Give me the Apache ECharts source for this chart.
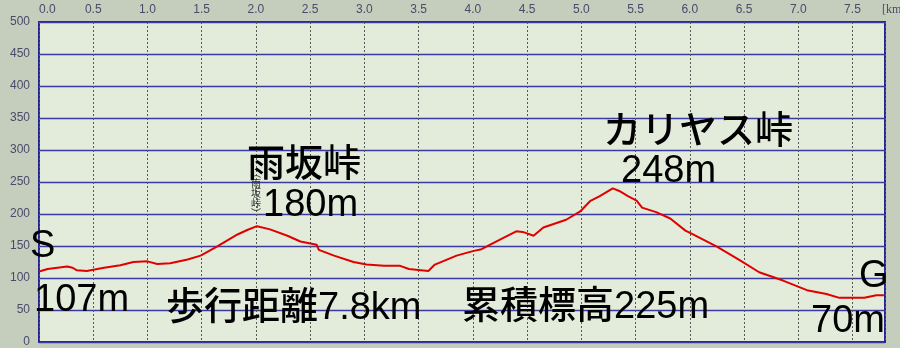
<!DOCTYPE html>
<html>
<head>
<meta charset="utf-8">
<script src="https://cdn.jsdelivr.net/npm/echarts@6/dist/echarts.min.js"></script>
<style>
html,body{margin:0;padding:0;background:#c5cdbd;}
#chart{width:900px;height:348px;}
</style>
</head>
<body>
<div id="chart"></div>
<script>
// distance along the route [km]
var distKm = [0.00,0.04,0.08,0.26,0.31,0.35,0.44,0.60,0.75,0.87,1.00,1.09,1.21,1.37,1.49,1.64,1.83,1.92,2.01,2.13,2.29,2.41,2.56,2.58,2.72,2.90,3.02,3.18,3.33,3.41,3.59,3.65,3.85,4.00,4.08,4.25,4.40,4.46,4.56,4.65,4.86,4.99,5.08,5.17,5.29,5.35,5.43,5.51,5.56,5.69,5.82,5.96,6.03,6.25,6.46,6.64,6.86,7.08,7.26,7.38,7.61,7.72,7.79];
// elevation [m]
var elevM = [110,112,114,118,116,112,111,116,120,125,126,122,123,129,135,149,168,175,181,176,166,157,152,144,135,125,121,119,119,114,111,121,135,142,145,160,173,172,166,179,191,204,220,228,240,236,228,221,210,203,193,174,168,149,128,109,96,81,75,69,69,73,73];
var xTicks = [0,0.5,1,1.5,2,2.5,3,3.5,4,4.5,5,5.5,6,6.5,7,7.5];
var yTicks = [0,50,100,150,200,250,300,350,400,450,500];
var notes = [
  {text:'雨坂峠', x:247, y:166},
  {text:'180m', x:263, y:206},
  {text:'カリヤス峠', x:603, y:133},
  {text:'248m', x:621, y:172},
  {text:'S', x:30, y:247},
  {text:'107m', x:34, y:301},
  {text:'歩行距離7.8km', x:166, y:309},
  {text:'累積標高225m', x:462, y:308},
  {text:'G', x:859, y:277},
  {text:'70m', x:811, y:322}
];

var data = distKm.map(function(d,i){return [d, elevM[i]];});
var bigFont = '500 38px "Liberation Sans", "Noto Sans CJK JP", sans-serif';
var graphics = [
  {type:'text', left:882, top:4, z:50, style:{text:'[km', fill:'#4a4a6a', font:'12px "Liberation Serif", serif'}},
  {type:'text', x:256, y:193, z:40, style:{text:'︵\n雨\n坂\n峠\n︶', fill:'#333', font:'10px "Noto Sans CJK JP"', lineHeight:10, align:'center', verticalAlign:'middle'}}
];
notes.forEach(function(n){
  graphics.push({type:'text', x:n.x, y:n.y, z:60, style:{text:n.text, fill:'#000', font:bigFont, align:'left', verticalAlign:'middle'}});
});

var chart = echarts.init(document.getElementById('chart'), null, {renderer:'canvas'});
chart.setOption({
  backgroundColor:'#c5cdbd',
  animation:false,
  grid:{left:39, right:15, top:22, bottom:3, show:true, backgroundColor:'#e3ecda', borderColor:'#26268e', borderWidth:2},
  xAxis:{
    type:'value', position:'top', min:0, max:7.8, interval:0.5,
    axisLine:{show:false}, axisTick:{show:false},
    axisLabel:{color:'#4a4a6a', fontSize:12, fontFamily:'Liberation Sans', margin:6, showMaxLabel:false, alignMinLabel:'left',
      formatter:function(v){ return xTicks.indexOf(v) >= 0 ? v.toFixed(1) : ''; }},
    splitLine:{show:true, lineStyle:{color:'#555', width:1, type:[2,2]}}
  },
  yAxis:{
    type:'value', min:0, max:500, interval:50,
    axisLine:{show:false}, axisTick:{show:false},
    axisLabel:{color:'#4a4a6a', fontSize:12, fontFamily:'Liberation Sans', margin:9,
      formatter:function(v){ return yTicks.indexOf(v) >= 0 ? String(v) : ''; }},
    splitLine:{show:true, lineStyle:{color:'#3a3aa0', width:1.3}}
  },
  series:[{
    type:'line', data:data, showSymbol:false, symbol:'none',
    lineStyle:{color:'#e00000', width:2}, z:10
  }],
  graphic:graphics
});
</script>
</body>
</html>
